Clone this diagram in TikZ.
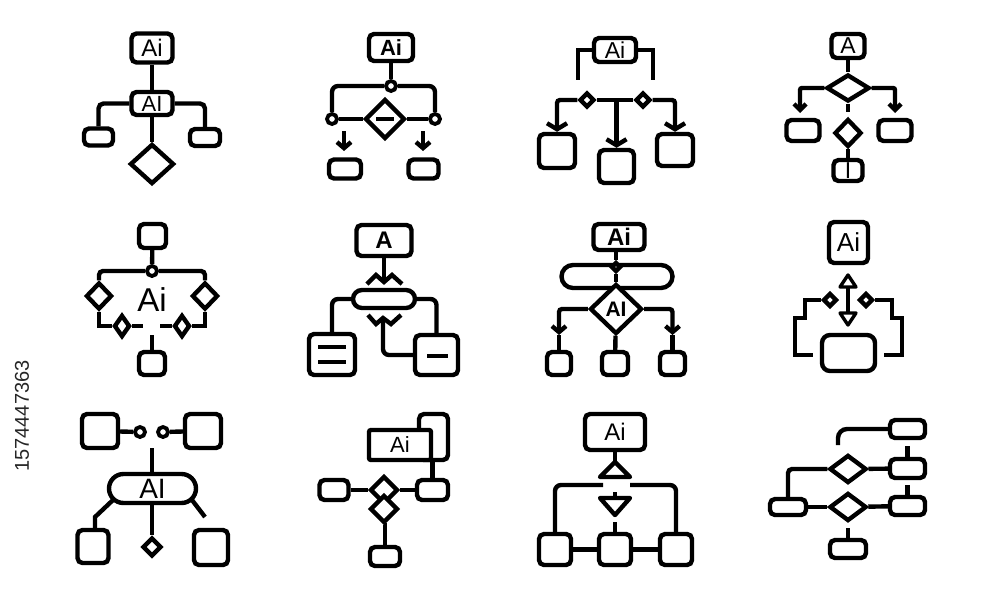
\documentclass[tikz,border=0pt]{standalone}
\usepackage{fontspec}
\setmainfont{Liberation Sans}
\usetikzlibrary{shapes.geometric,arrows.meta}
\begin{document}
\begin{tikzpicture}[x=1pt,y=-1pt,
  line width=4.4pt,
  box/.style={draw, rounded corners=5pt, inner sep=0pt, fill=white},
  dia/.style={draw, diamond, inner sep=0pt, fill=white},
  dot/.style={draw, circle, inner sep=0pt, minimum size=10pt, line width=3.8pt, fill=white},
  pill/.style={draw, rounded corners=#1, inner sep=0pt, fill=white},
  fs/.style={font=\fontsize{#1pt}{#1pt}\selectfont},
  fsb/.style={font=\fontsize{#1pt}{#1pt}\selectfont\bfseries},
  arr/.style={-{Straight Barb[length=6pt,width=#1]}},
  tri/.style={line join=round}
]
\useasboundingbox (0,0) rectangle (1000,600);

% ---------- icon 1 ----------
\node[box, minimum width=41pt, minimum height=29pt, fs=24] (i1t) at (152,48) {Ai};
\node[box, minimum width=41pt, minimum height=23pt, fs=22] (i1m) at (152,103.5) {AI};
\node[box, minimum width=29pt, minimum height=17pt] (i1l) at (98.5,137) {};
\node[box, minimum width=30pt, minimum height=17pt] (i1r) at (205,137.5) {};
\node[dia, minimum width=44pt, minimum height=40pt] (i1d) at (152,164) {};
\draw (i1t) -- (i1m);
\draw[rounded corners=5pt] (i1m.west) -| (i1l.north);
\draw[rounded corners=5pt] (i1m.east) -| (i1r.north);
\draw (i1m) -- (i1d);

% ---------- icon 2 ----------
\node[box, minimum width=44pt, minimum height=27pt, fsb=22] (i2t) at (391,47.5) {Ai};
\node[dot] (i2c) at (391,86) {};
\node[dot] (i2l) at (332,119) {};
\node[dot] (i2r) at (435,119) {};
\node[dia, minimum width=40pt, minimum height=40pt] (i2d) at (385,119) {};
\draw ([xshift=-9pt]i2d.center) -- ([xshift=9pt]i2d.center);
\draw (i2t) -- (i2c);
\draw[rounded corners=6pt] (i2c.west) -| (i2l.north);
\draw[rounded corners=6pt] (i2c.east) -| (i2r.north);
\draw (i2l) -- (i2d);
\draw (i2d) -- (i2r);
\node[box, minimum width=32pt, minimum height=19pt] (i2bl) at (345,169) {};
\node[box, minimum width=30pt, minimum height=19pt] (i2br) at (423.5,169) {};
\coordinate (i2al) at (344,131);
\coordinate (i2alt) at (344,151);
\coordinate (i2ar) at (423,131);
\coordinate (i2art) at (423,151);
\draw[arr=14pt] (i2al) -- (i2alt);
\draw[arr=14pt] (i2ar) -- (i2art);

% ---------- icon 3 ----------
\node[box, minimum width=42pt, minimum height=24pt, fs=23] (i3t) at (615,50) {Ai};
\coordinate (i3bl) at (578,80);
\coordinate (i3br) at (653,80);
\draw (i3t.west) -| (i3bl);
\draw (i3t.east) -| (i3br);
\node[box, minimum width=36pt, minimum height=34pt] (i3l) at (557,151) {};
\node[box, minimum width=35pt, minimum height=33pt] (i3c) at (616.5,166.5) {};
\node[box, minimum width=36pt, minimum height=32pt] (i3r) at (675,150) {};
\node[dia, minimum size=15pt] (i3dl) at (587,100) {};
\node[dia, minimum size=15pt] (i3dr) at (643,100) {};
\draw[arr=20pt, rounded corners=3pt] (i3dl.west) -| (i3l.north);
\draw[arr=20pt, rounded corners=3pt] (i3dr.east) -| (i3r.north);
\draw (i3dl.east) -- (i3dr.west);
\coordinate (i3m) at (616.5,100);
\draw[arr=20pt] (i3m) -- (i3c.north);

% ---------- icon 4 ----------
\node[box, minimum width=33pt, minimum height=24pt, fs=23] (i4t) at (848,46) {A};
\node[dia, minimum width=43pt, minimum height=27pt] (i4d) at (848,88) {};
\node[box, minimum width=33pt, minimum height=21pt] (i4l) at (803,130.5) {};
\node[box, minimum width=33pt, minimum height=21pt] (i4r) at (895,130.5) {};
\node[dia, minimum width=27pt, minimum height=28pt] (i4s) at (848,133) {};
\node[box, minimum width=29pt, minimum height=21pt, fs=23] (i4b) at (848,170.5) {I};
\coordinate (i4la) at (800,113);
\coordinate (i4ra) at (895,113);
\coordinate (i4st) at (848,112);
\draw (i4t) -- (i4d);
\draw[arr=12pt, rounded corners=2pt] (i4d.west) -| (i4la);
\draw[arr=12pt, rounded corners=2pt] (i4d.east) -| (i4ra);
\draw (i4d.south) -- (i4st);
\draw (i4s) -- (i4b);

% ---------- icon 5 ----------
\node[box, minimum width=27pt, minimum height=24pt] (i5t) at (152.5,236) {};
\node[dot] (i5c) at (152,271) {};
\node[dia, minimum width=26pt, minimum height=27pt] (i5dl) at (99,296) {};
\node[dia, minimum width=26pt, minimum height=27pt] (i5dr) at (205,296) {};
\node[dia, minimum width=16pt, minimum height=22pt] (i5sl) at (122,326) {};
\node[dia, minimum width=16pt, minimum height=22pt] (i5sr) at (182,326) {};
\node[box, minimum width=26pt, minimum height=23pt] (i5b) at (152,363.5) {};
\node[fs=33] (i5txt) at (152,300) {Ai};
\coordinate (i5gl) at (143,326);
\coordinate (i5gr) at (160,326);
\coordinate (i5v) at (152,335);
\draw (i5t) -- (i5c);
\draw[rounded corners=4pt] (i5c.west) -| (i5dl.north);
\draw[rounded corners=4pt] (i5c.east) -| (i5dr.north);
\draw (i5dl.south) |- (i5sl.west);
\draw (i5dr.south) |- (i5sr.east);
\draw (i5sl.east) -- (i5gl);
\draw (i5sr.west) -- (i5gr);
\draw (i5v) -- (i5b);

% ---------- icon 6 ----------
\node[box, minimum width=55pt, minimum height=31pt, fsb=24] (i6t) at (384,240.5) {A};
\node[pill=9pt, minimum width=62pt, minimum height=18pt] (i6p) at (384,299) {};
\node[box, minimum width=46pt, minimum height=41pt] (i6l) at (332,354.5) {};
\node[box, minimum width=43pt, minimum height=40pt] (i6r) at (436.5,355) {};
\coordinate (i6m) at (384,282);
\coordinate (i6w) at (383,318);
\draw (i6t) -- (i6m);
\draw (367,284) -- (376,275) -- (i6m) -- (392,275) -- (402,284);
\draw (368,315) -- (376,324) -- (i6w) -- (391,324) -- (401,315);
\draw[rounded corners=6pt] (i6w) |- (i6r.west);
\draw[rounded corners=6pt] (i6p.west) -| (i6l.north);
\draw[rounded corners=6pt] (i6p.east) -| (i6r.north);
\draw (318,347) -- (346,347);
\draw (318,362) -- (346,362);
\draw (427,356) -- (448,356);

% ---------- icon 7 ----------
\node[box, minimum width=51pt, minimum height=26pt, fsb=24] (i7t) at (619,237) {Ai};
\node[pill=11.5pt, minimum width=111pt, minimum height=23pt] (i7p) at (617,276.5) {};
\node[dia, minimum size=10pt] (i7s) at (616,267) {};
\node[dia, minimum width=52pt, minimum height=50pt, fsb=21] (i7d) at (616,309) {AI};
\draw (i7t.south -| i7s) -- (i7s);
\draw (i7s) -- (i7d);
\node[box, minimum width=24pt, minimum height=23pt] (i7l) at (559,363.5) {};
\node[box, minimum width=26pt, minimum height=23pt] (i7c) at (615,363.5) {};
\node[box, minimum width=25pt, minimum height=23pt] (i7r) at (672.5,363.5) {};
\coordinate (i7la) at (559,335);
\coordinate (i7ra) at (672.5,335);
\draw[arr=14pt, rounded corners=3pt] (i7d.west) -| (i7la);
\draw[arr=14pt, rounded corners=3pt] (i7d.east) -| (i7ra);
\draw (i7la) -- (i7l);
\draw (i7ra) -- (i7r);
\draw (i7d) -- (i7c);

% ---------- icon 8 ----------
\node[box, minimum width=39pt, minimum height=41pt, fs=26] (i8t) at (848.5,242.5) {Ai};
\node[box, rounded corners=8pt, minimum width=53pt, minimum height=36pt] (i8b) at (848.5,353) {};
\coordinate (i8u) at (848,275);
\coordinate (i8d) at (848,325);
\draw (i8u) -- (i8d);
\draw[tri, line width=3.4pt, fill=white] (i8u) -- (856,287) -- (840,287) -- cycle;
\draw[tri, line width=3.4pt, fill=white] (i8d) -- (856,313) -- (840,313) -- cycle;
\node[dia, minimum size=14pt] (i8dl) at (830,300) {};
\node[dia, minimum size=14pt] (i8dr) at (866,300) {};
\coordinate (i8el) at (813,355);
\coordinate (i8er) at (884,355);
\draw (i8dl.west) -| (805,318) -| (795,355) -- (i8el);
\draw (i8dr.east) -| (892,318) -| (902,355) -- (i8er);

% ---------- icon 9 ----------
\node[box, minimum width=36pt, minimum height=34pt] (i9a) at (100,431) {};
\node[box, minimum width=36pt, minimum height=34pt] (i9b) at (203,431) {};
\node[dot] (i9c) at (140,432) {};
\node[dot] (i9d) at (163,432) {};
\draw (i9a) -- (i9c);
\draw (i9d) -- (i9b);
\coordinate (i9v) at (152,448);
\node[pill=14.5pt, minimum width=87pt, minimum height=29pt, fs=28] (i9p) at (152.5,488.5) {AI};
\draw (i9v) -- (i9v |- i9p.north);
\node[box, minimum width=31pt, minimum height=33pt] (i9l) at (93,546.5) {};
\node[box, minimum width=34pt, minimum height=35pt] (i9r) at (211,547.5) {};
\node[dia, minimum size=19pt] (i9s) at (152,547) {};
\draw (i9p.south -| i9s) -- (i9s);
\coordinate (i9pl) at (113,500);
\coordinate (i9pr) at (192,500);
\coordinate (i9k) at (95,517);
\coordinate (i9e) at (205,517);
\draw (i9pl) -- (i9k) -- (i9k |- i9l.north);
\draw (i9pr) -- (i9e);

% ---------- icon 10 ----------
\node[box, minimum width=29pt, minimum height=46pt] (i10k) at (433.5,437) {};
\node[box, rounded corners=2pt, minimum width=62pt, minimum height=30pt, fs=22] (i10f) at (400,445) {Ai};
\node[box, minimum width=31pt, minimum height=20pt] (i10r) at (432.5,490) {};
\node[box, minimum width=29pt, minimum height=20pt] (i10l) at (334,490) {};
\node[dia, minimum size=28pt] (i10d1) at (384,490) {};
\node[dia, minimum size=28pt] (i10d2) at (384,509) {};
\node[box, minimum width=30pt, minimum height=19pt] (i10b) at (385,556.5) {};
\draw (i10f.south -| i10r) -- (i10r);
\draw (i10l) -- (i10d1);
\draw (i10d1) -- (i10r);
\draw (i10d2.south) -- (i10d2.south -| i10b) -- (i10b);

% ---------- icon 11 ----------
\node[box, minimum width=60pt, minimum height=36pt, fs=24] (i11t) at (615,432) {Ai};
\coordinate (i11ua) at (615,462);
\draw (i11t) -- (i11ua);
\draw[tri] (i11ua) -- (630,477) -- (600,477) -- cycle;
\node[box, minimum width=32pt, minimum height=31pt] (i11l) at (555,549.5) {};
\node[box, minimum width=32pt, minimum height=31pt] (i11c) at (615,549.5) {};
\node[box, minimum width=32pt, minimum height=31pt] (i11r) at (676,549.5) {};
\coordinate (i11hl) at (603,485);
\coordinate (i11hr) at (630,485);
\draw[rounded corners=6pt] (i11hl) -| (i11l.north);
\draw[rounded corners=6pt] (i11hr) -| (i11r.north);
\coordinate (i11da) at (615,515);
\coordinate (i11tk) at (615,492);
\draw[tri] (600,498) -- (630,498) -- (i11da) -- cycle;
\draw (i11tk) -- (615,498);
\coordinate (i11s) at (615,522);
\draw (i11s) -- (i11c);
\draw (i11l) -- (i11c);
\draw (i11c) -- (i11r);

% ---------- icon 12 ----------
\node[box, minimum width=35pt, minimum height=18pt] (i12a) at (907.5,429) {};
\node[box, minimum width=35pt, minimum height=19pt] (i12b) at (907.5,468.5) {};
\node[box, minimum width=35pt, minimum height=18pt] (i12c) at (907.5,506) {};
\node[box, minimum width=36pt, minimum height=16pt] (i12l) at (788,507) {};
\node[box, minimum width=36pt, minimum height=18pt] (i12e) at (848,549) {};
\node[dia, minimum width=37pt, minimum height=28pt] (i12d1) at (848,469) {};
\node[dia, minimum width=37pt, minimum height=28pt] (i12d2) at (848,507) {};
\coordinate (i12f) at (838,445);
\draw[rounded corners=9pt] (i12a.west) -| (i12f);
\coordinate (i12s1) at (907.5,446);
\coordinate (i12s2) at (907.5,485);
\coordinate (i12s3) at (848,528);
\draw (i12s1) -- (i12b);
\draw (i12s2) -- (i12c);
\draw (i12s3) -- (i12e);
\draw (i12d1) -- (i12b);
\draw[rounded corners=4pt] (i12d1.west) -| (i12l.north);
\draw (i12l) -- (i12d2);
\draw (i12d2) -- (i12c);

% ---------- stock number ----------
\node[rotate=90, fs=20, text=black!85] (num) at (22,416) {1574447363};
\end{tikzpicture}
\end{document}
